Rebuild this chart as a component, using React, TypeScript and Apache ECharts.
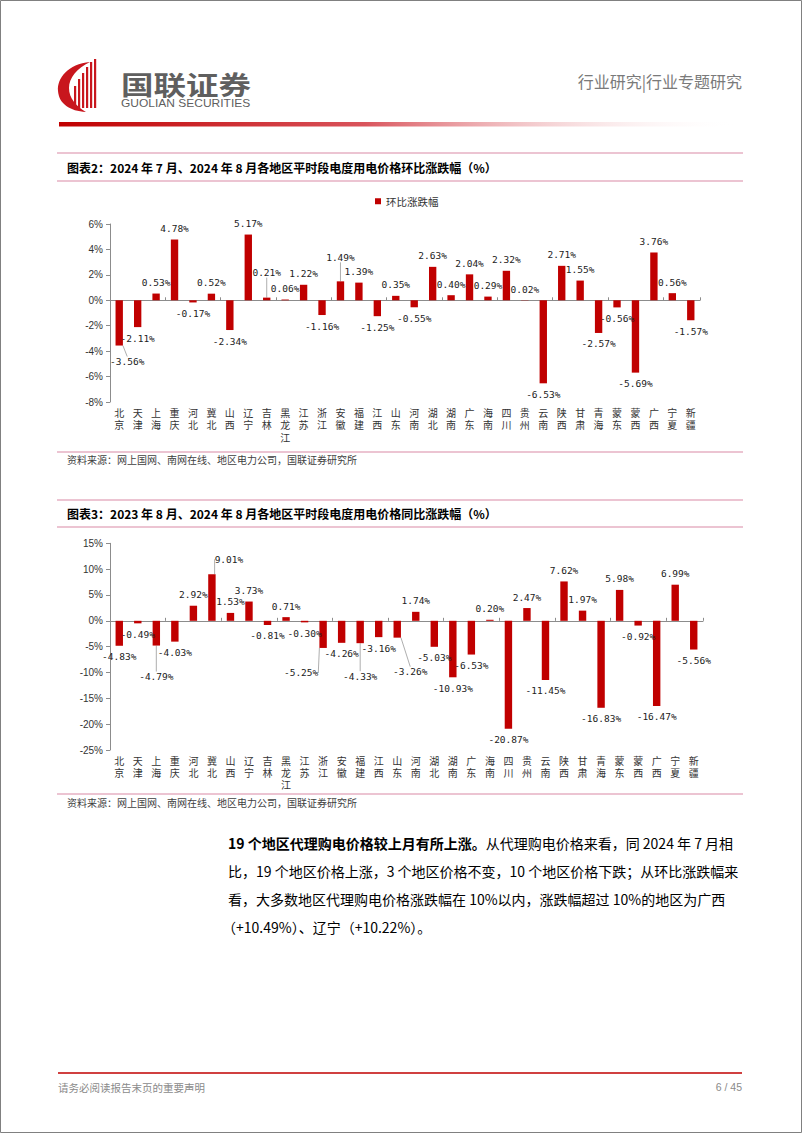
import React, { useEffect, useRef } from "react";
import * as echarts from "echarts";

// ---------- data ----------
const regions = [
  "北京", "天津", "上海", "重庆", "河北", "冀北", "山西", "辽宁", "吉林", "黑龙江",
  "江苏", "浙江", "安徽", "福建", "江西", "山东", "河南", "湖北", "湖南", "广东",
  "海南", "四川", "贵州", "云南", "陕西", "甘肃", "青海", "蒙东", "蒙西", "广西",
  "宁夏", "新疆",
];
// 图表2: 环比涨跌幅 (%)
const momValues = [
  -3.56, -2.11, 0.53, 4.78, -0.17, 0.52, -2.34, 5.17, 0.21, 0.06,
  1.22, -1.16, 1.49, 1.39, -1.25, 0.35, -0.55, 2.63, 0.4, 2.04,
  0.29, 2.32, 0.02, -6.53, 2.71, 1.55, -2.57, -0.56, -5.69, 3.76,
  0.56, -1.57,
];
// 图表3: 同比涨跌幅 (%)
const yoyValues = [
  -4.83, -0.49, -4.79, -4.03, 2.92, 9.01, 1.53, 3.73, -0.81, 0.71,
  -0.3, -5.25, -4.26, -4.33, -3.16, -3.26, 1.74, -5.03, -10.93, -6.53,
  0.2, -20.87, 2.47, -11.45, 7.62, 1.97, -16.83, 5.98, -0.92, -16.47,
  6.99, -5.56,
];
const momAxis = { min: -8, max: 6, interval: 2 };
const yoyAxis = { min: -25, max: 15, interval: 5 };

const chart2Title = "图表2：2024 年 7 月、2024 年 8 月各地区平时段电度用电价格环比涨跌幅（%）";
const chart3Title = "图表3：2023 年 8 月、2024 年 8 月各地区平时段电度用电价格同比涨跌幅（%）";
const sourceText = "资料来源：网上国网、南网在线、地区电力公司，国联证券研究所";
const momName = "环比涨跌幅";
const yoyName = "同比涨跌幅";
const paraBold = "19 个地区代理购电价格较上月有所上涨。";
const paraLines = [
  "从代理购电价格来看，同 2024 年 7 月相",
  "比，19 个地区价格上涨，3 个地区价格不变，10 个地区价格下跌；从环比涨跌幅来",
  "看，大多数地区代理购电价格涨跌幅在 10%以内，涨跌幅超过 10%的地区为广西",
  "（+10.49%）、辽宁（+10.22%）。",
];

// label nudges (pixels) for a few crowded labels
const momShift: Record<string, [number, number]> = {
  北京: [8, 5],
  吉林: [0, -14],
  安徽: [0, -13],
};
const yoyShift: Record<string, [number, number]> = {
  上海: [0, 20],
  冀北: [17, -4],
  浙江: [-22, 14],
  福建: [0, 22],
  山东: [13, 23],
};

const RED = "#C00000";
const PINK = "#D98AA6";
const CJK = "'Noto Sans CJK SC', sans-serif";
const NUM = "'DejaVu Sans Mono', monospace";

echarts.graphic.registerShape(
  "logo",
  echarts.graphic.extendPath(
    "M 90 62 C 68 64 57 78 58 91 C 59 104 70 111 86 112 C 76 106 69 98 69 88 C 69 78 77 68 90 62 Z",
    {}
  )
);

function buildData(values: number[], shift: Record<string, [number, number]>) {
  return values.map((v, i) => ({
    value: v,
    label: { position: v >= 0 ? "top" : "bottom" },
    labelLine: { show: !!shift[regions[i]] },
  }));
}

function catAxisLabel(lineHeight: number) {
  return {
    interval: 0,
    margin: 5,
    fontSize: 10,
    lineHeight,
    color: "#333",
    fontFamily: "'Liberation Sans', 'Noto Sans CJK SC', sans-serif",
    formatter: (s: string) => s.split("").join("\n"),
  };
}

export default function App() {
  const ref = useRef<HTMLDivElement>(null);
  useEffect(() => {
    if (!ref.current) return;
    const chart = echarts.init(ref.current, null, { renderer: "svg" });

    const lines: any[] = [153, 181, 452, 500, 527, 794].map((y) => ({
      type: "line",
      shape: { x1: 57, y1: y, x2: 743, y2: y },
      style: { stroke: PINK, lineWidth: 1.2 },
    }));

    const bars: any[] = [
      [74, 86], [78, 79], [82, 73], [86, 67], [90, 62], [94, 59],
    ].map(([x, top]) => ({
      type: "rect",
      shape: { x, y: top, width: 2.2, height: 108 - top },
      style: { fill: "#c8161d" },
    }));

    const txt = (x: number, y: number, text: string, extra: any = {}, el: any = {}) => ({
      type: "text",
      x,
      y,
      ...el,
      style: {
        text,
        fill: "#000",
        fontSize: 12,
        fontFamily: CJK,
        textVerticalAlign: "middle",
        verticalAlign: "middle",
        ...extra,
      },
    });

    const option: any = {
      animation: false,
      legend: {
        data: [momName],
        left: 370,
        top: 191,
        icon: "rect",
        itemWidth: 6,
        itemHeight: 6,
        itemGap: 4,
        textStyle: { fontSize: 10.5, color: "#333", fontFamily: CJK },
      },
      grid: [
        { left: 110, width: 590, top: 224, height: 178 },
        { left: 110, width: 593, top: 543.3, height: 206.7 },
      ],
      xAxis: [
        {
          gridIndex: 0, type: "category", data: regions, position: "bottom",
          axisLine: { show: false, onZero: false }, axisTick: { show: false },
          axisLabel: catAxisLabel(12.5),
        },
        {
          gridIndex: 0, type: "category", data: regions, position: "bottom",
          axisLine: { show: true, onZero: true, lineStyle: { color: "#8c8c8c" } },
          axisTick: { show: true, inside: true, length: 3, lineStyle: { color: "#8c8c8c" } },
          axisLabel: { show: false },
        },
        {
          gridIndex: 1, type: "category", data: regions, position: "bottom",
          axisLine: { show: false, onZero: false }, axisTick: { show: false },
          axisLabel: catAxisLabel(12),
        },
        {
          gridIndex: 1, type: "category", data: regions, position: "bottom",
          axisLine: { show: true, onZero: true, lineStyle: { color: "#8c8c8c" } },
          axisTick: { show: true, inside: true, length: 3, lineStyle: { color: "#8c8c8c" } },
          axisLabel: { show: false },
        },
      ],
      yAxis: [
        {
          gridIndex: 0, type: "value", ...momAxis,
          axisLine: { show: true, lineStyle: { color: "#8c8c8c" } },
          axisTick: { show: true, length: 4, lineStyle: { color: "#8c8c8c" } },
          splitLine: { show: false },
          axisLabel: { formatter: "{value}%", fontSize: 10, color: "#333", margin: 7, fontFamily: "'Liberation Sans', Arial" },
        },
        {
          gridIndex: 1, type: "value", ...yoyAxis,
          axisLine: { show: true, lineStyle: { color: "#8c8c8c" } },
          axisTick: { show: true, length: 4, lineStyle: { color: "#8c8c8c" } },
          splitLine: { show: false },
          axisLabel: { formatter: "{value}%", fontSize: 10, color: "#333", margin: 7, fontFamily: "'Liberation Sans', Arial" },
        },
      ],
      series: [
        {
          name: momName, type: "bar", xAxisIndex: 0, yAxisIndex: 0,
          data: buildData(momValues, momShift),
          barWidth: "40%",
          itemStyle: { color: RED },
          label: {
            show: true, fontSize: 9.5, color: "#222", fontFamily: NUM, distance: 6,
            formatter: (p: any) => Number(p.value).toFixed(2) + "%",
          },
          labelLine: { show: false, lineStyle: { color: "#999", width: 0.8 } },
          labelLayout: (p: any) => {
            const s = momShift[regions[p.dataIndex]];
            return s ? { dx: s[0], dy: s[1] } : {};
          },
        },
        {
          name: yoyName, type: "bar", xAxisIndex: 2, yAxisIndex: 1,
          data: buildData(yoyValues, yoyShift),
          barWidth: "40%",
          itemStyle: { color: RED },
          label: {
            show: true, fontSize: 9.5, color: "#222", fontFamily: NUM, distance: 6,
            formatter: (p: any) => Number(p.value).toFixed(2) + "%",
          },
          labelLine: { show: false, lineStyle: { color: "#999", width: 0.8 } },
          labelLayout: (p: any) => {
            const s = yoyShift[regions[p.dataIndex]];
            return s ? { dx: s[0], dy: s[1] } : {};
          },
        },
      ],
      graphic: [
        {
          type: "rect",
          shape: { x: 0.5, y: 0.5, width: 801, height: 1132 },
          style: { fill: "none", stroke: "#808080", lineWidth: 1 },
          silent: true,
        },
        { type: "logo", x: 0, y: 0, style: { fill: "#c8161d" } },
        ...bars,
        txt(121, 84, "国联证券", { fontSize: 26, fontWeight: "bold", fill: "#5f5f5f" }, { scaleX: 1.25 }),
        txt(121, 103, "GUOLIAN SECURITIES", { fontSize: 10, fill: "#5f5f5f", fontFamily: "'Liberation Sans', Arial" }, { scaleX: 1.2 }),
        txt(742, 81, "行业研究|行业专题研究", { fontSize: 16, fill: "#7a7a7a", textAlign: "right" }),
        {
          type: "rect",
          shape: { x: 59, y: 122, width: 680, height: 4.5 },
          style: {
            fill: new echarts.graphic.LinearGradient(0, 0, 1, 0, [
              { offset: 0, color: "#C00000" },
              { offset: 0.45, color: "#d9545c" },
              { offset: 1, color: "rgba(255,255,255,0)" },
            ]),
          },
        },
        ...lines,
        txt(67, 167.5, chart2Title, { fontSize: 12, fontWeight: "bold" }),
        txt(67, 459, sourceText, { fontSize: 10, fill: "#404040" }),
        txt(67, 513.5, chart3Title, { fontSize: 12, fontWeight: "bold" }),
        txt(67, 802, sourceText, { fontSize: 10, fill: "#404040" }),
        {
          type: "text",
          x: 228,
          y: 843,
          style: {
            text: "{b|" + paraBold + "}{n|" + paraLines[0] + "}",
            fontFamily: CJK,
            verticalAlign: "middle",
            textVerticalAlign: "middle",
            rich: {
              b: { fontSize: 14, fontWeight: "bold", fill: "#000", fontFamily: CJK },
              n: { fontSize: 14, fill: "#000", fontFamily: CJK },
            },
          },
        },
        txt(228, 871, paraLines[1], { fontSize: 14 }),
        txt(228, 899, paraLines[2], { fontSize: 14 }),
        txt(222, 927, paraLines[3], { fontSize: 14 }),
        {
          type: "line",
          shape: { x1: 58, y1: 1073, x2: 742, y2: 1073 },
          style: { stroke: RED, lineWidth: 1.5 },
        },
        txt(58, 1087, "请务必阅读报告末页的重要声明", { fontSize: 10.5, fill: "#8a8a8a" }),
        txt(742, 1087, "6 / 45", { fontSize: 10.5, fill: "#8a8a8a", textAlign: "right", fontFamily: "'Liberation Sans', Arial" }),
      ],
    };
    chart.setOption(option);
    return () => chart.dispose();
  }, []);
  return (
    <div
      ref={ref}
      style={{ position: "absolute", left: 0, top: 0, width: 802, height: 1133, background: "#fff" }}
    />
  );
}
